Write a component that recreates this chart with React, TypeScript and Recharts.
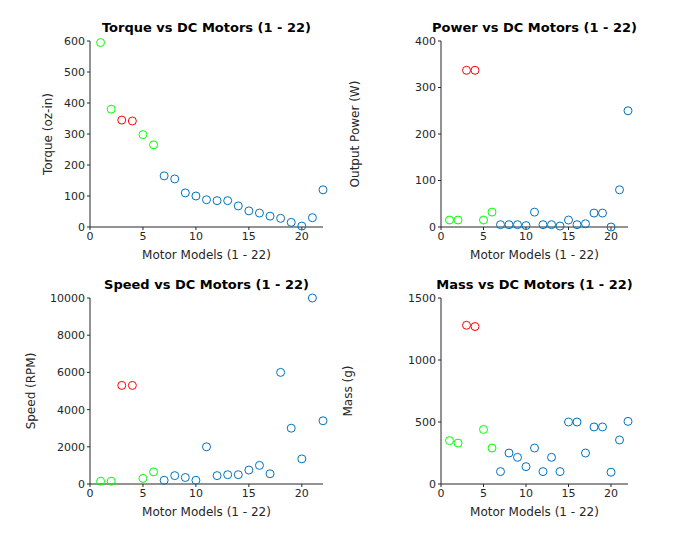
import React from "react";
import { ScatterChart, Scatter, XAxis, YAxis, Cell } from "recharts";

const models = [1, 2, 3, 4, 5, 6, 7, 8, 9, 10, 11, 12, 13, 14, 15, 16, 17, 18, 19, 20, 21, 22];
const groups = ["g", "g", "r", "r", "g", "g", "b", "b", "b", "b", "b", "b", "b", "b", "b", "b", "b", "b", "b", "b", "b", "b"];
const torque = [595, 380, 345, 342, 298, 265, 165, 155, 110, 100, 88, 85, 85, 68, 52, 45, 35, 28, 15, 3, 30, 120];
const power = [15, 15, 337, 337, 15, 32, 5, 5, 5, 3, 32, 5, 5, 2, 15, 5, 7, 30, 30, 0, 80, 250];
const speed = [150, 150, 5300, 5300, 300, 650, 200, 450, 350, 200, 2000, 450, 500, 500, 750, 1000, 550, 6000, 3000, 1350, 10000, 3400];
const mass = [350, 330, 1280, 1270, 440, 290, 100, 250, 215, 140, 290, 100, 215, 100, 500, 500, 250, 460, 460, 95, 355, 505];

const colorOf: Record<string, string> = { g: "#00ff00", r: "#ff0000", b: "#0072bd" };
const font = "'DejaVu Sans', sans-serif";
const axisCol = "#262626";

const Ring = (p: any) => (
  <circle cx={p.cx} cy={p.cy} r={4} fill="none" stroke={p.fill} strokeWidth={1} />
);

function Panel(props: {
  left: number; top: number; title: string; ylabel: string; labelOffset: number;
  values: number[]; yMax: number; yTicks: number[]; plotLeft: number; plotRight: number;
}) {
  const { left, top, title, ylabel, labelOffset, values, yMax, yTicks, plotLeft, plotRight } = props;
  const data = models.map((m, i) => ({ x: m, y: values[i], g: groups[i] }));
  const W = 358, H = 270;
  const tick = { fontSize: 11, fill: axisCol, fontFamily: font };
  return (
    <div style={{ position: "absolute", left, top, width: W, height: H }}>
      <div style={{ position: "absolute", left: plotLeft - 40, width: plotRight - plotLeft + 80, top: 20, textAlign: "center", whiteSpace: "nowrap", fontFamily: font, fontWeight: "bold", fontSize: 13, color: "#000" }}>
        {title}
      </div>
      <ScatterChart width={W} height={H} margin={{ top: 41, right: W - plotRight, bottom: 13, left: plotLeft - 50 }}>
        <XAxis type="number" dataKey="x" domain={[0, 22]} ticks={[0, 5, 10, 15, 20]} tick={tick} stroke={axisCol} tickSize={3}
          height={30} label={{ value: "Motor Models (1 - 22)", position: "insideBottom", offset: -2, fontSize: 12, fill: axisCol, fontFamily: font }} />
        <XAxis xAxisId="top" orientation="top" type="number" domain={[0, 22]} tick={false} tickLine={false} stroke={axisCol} height={0} />
        <YAxis type="number" dataKey="y" domain={[0, yMax]} ticks={yTicks} tick={tick} stroke={axisCol} tickSize={3} width={50}
          label={{ value: ylabel, angle: -90, position: "insideLeft", offset: labelOffset, fontSize: 12, fill: axisCol, fontFamily: font, style: { textAnchor: "middle" } }} />
        <YAxis yAxisId="right" orientation="right" type="number" domain={[0, yMax]} tick={false} tickLine={false} stroke={axisCol} width={0} />
        <Scatter data={data} shape={Ring} isAnimationActive={false}>
          {data.map((d, i) => (
            <Cell key={i} fill={colorOf[d.g]} />
          ))}
        </Scatter>
      </ScatterChart>
    </div>
  );
}

export default function App() {
  return (
    <div style={{ position: "absolute", left: 0, top: 0, width: 699, height: 545, background: "#fff" }}>
      <Panel left={0} top={0} title="Torque vs DC Motors (1 - 22)" ylabel="Torque (oz-in)" labelOffset={8} values={torque} yMax={600}
        yTicks={[0, 100, 200, 300, 400, 500, 600]} plotLeft={90} plotRight={323} />
      <Panel left={340} top={0} title="Power vs DC Motors (1 - 22)" ylabel="Output Power (W)" labelOffset={-36} values={power} yMax={400}
        yTicks={[0, 100, 200, 300, 400]} plotLeft={101} plotRight={288} />
      <Panel left={0} top={257} title="Speed vs DC Motors (1 - 22)" ylabel="Speed (RPM)" labelOffset={-9} values={speed} yMax={10000}
        yTicks={[0, 2000, 4000, 6000, 8000, 10000]} plotLeft={90} plotRight={323} />
      <Panel left={340} top={257} title="Mass vs DC Motors (1 - 22)" ylabel="Mass (g)" labelOffset={-43} values={mass} yMax={1500}
        yTicks={[0, 500, 1000, 1500]} plotLeft={101} plotRight={288} />
    </div>
  );
}
